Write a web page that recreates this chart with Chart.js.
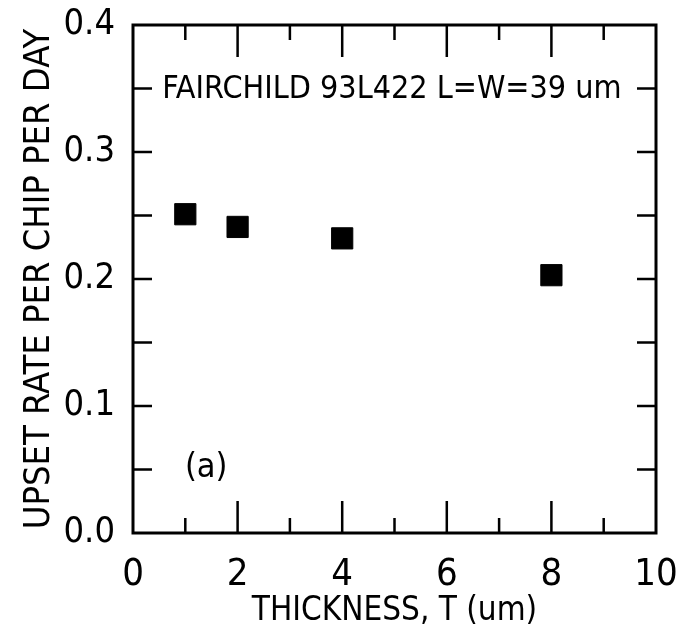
<!DOCTYPE html>
<html>
<head>
<meta charset="utf-8">
<script src="https://cdn.jsdelivr.net/npm/chart.js@4"></script>
<style>
  html, body { margin: 0; padding: 0; background: #fff; }
  #wrap { width: 680px; height: 635px; }
</style>
</head>
<body>
<div id="wrap"><canvas id="chart" width="680" height="635"></canvas></div>
<script>
const thickness = [1, 2, 4, 8]
const upsetRate = [0.251, 0.241, 0.232, 0.203]
const xTicks = [0, 2, 4, 6, 8, 10]
const yTicks = [0.0, 0.1, 0.2, 0.3, 0.4]
const note = 'FAIRCHILD 93L422 L=W=39 um'
const panel = '(a)'

const FONT = "'Liberation Sans Narrow', 'DejaVu Sans Condensed', sans-serif"

// inward ticks on all four sides plus the box
const frame = {
  id: 'frame',
  afterDatasetsDraw(chart){
    const {ctx, chartArea:a, scales:{x, y}} = chart
    ctx.save()
    ctx.strokeStyle = '#000'
    ctx.lineWidth = 3
    ctx.strokeRect(a.left, a.top, a.right - a.left, a.bottom - a.top)
    ctx.lineWidth = 2.5
    ctx.beginPath()
    for(let v = 1; v < 10; v++){
      const px = x.getPixelForValue(v)
      const len = v % 2 === 0 ? 32 : 15
      ctx.moveTo(px, a.bottom); ctx.lineTo(px, a.bottom - len)
      ctx.moveTo(px, a.top); ctx.lineTo(px, a.top + len)
    }
    for(let i = 1; i < 8; i++){
      const py = y.getPixelForValue(i * 0.05)
      ctx.moveTo(a.left, py); ctx.lineTo(a.left + 19, py)
      ctx.moveTo(a.right, py); ctx.lineTo(a.right - 19, py)
    }
    ctx.stroke()
    // labels inside the plot
    ctx.fillStyle = '#000'
    ctx.textBaseline = 'middle'
    ctx.textAlign = 'center'
    ctx.font = '32px ' + FONT
    ctx.fillText(note, x.getPixelForValue(4.95), y.getPixelForValue(0.349))
    ctx.font = '34px ' + FONT
    ctx.fillText(panel, x.getPixelForValue(1.4), y.getPixelForValue(0.051))
    ctx.restore()
  }
}

new Chart(document.getElementById('chart'), {
  type: 'scatter',
  data: {
    datasets: [{
      data: thickness.map((t, i) => ({x: t, y: upsetRate[i]})),
      pointStyle: 'rect',
      pointRadius: 15,
      pointHoverRadius: 15,
      backgroundColor: '#000',
      borderColor: '#000'
    }]
  },
  options: {
    responsive: false,
    animation: false,
    layout: {padding: {top: 25, right: 24, left: 0, bottom: 0}},
    plugins: {legend: {display: false}, tooltip: {enabled: false}},
    scales: {
      x: {
        type: 'linear', min: 0, max: 10,
        afterFit(s){ s.height = 102; s.paddingLeft = 0; s.paddingRight = 0 },
        afterBuildTicks(s){ s.ticks = xTicks.map(v => ({value: v})) },
        grid: {display: false},
        border: {display: false},
        ticks: {color: '#000', padding: 11, font: {family: FONT, size: 38}},
        title: {display: true, text: 'THICKNESS, T (um)', color: '#000', padding: {top: 0}, font: {family: FONT, size: 33}}
      },
      y: {
        type: 'linear', min: 0, max: 0.4,
        afterFit(s){ s.width = 133; s.paddingTop = 0; s.paddingBottom = 0 },
        afterBuildTicks(s){ s.ticks = yTicks.map(v => ({value: v})) },
        grid: {display: false},
        border: {display: false},
        ticks: {color: '#000', padding: 10, font: {family: FONT, size: 36}, callback: v => v.toFixed(1)},
        title: {display: true, text: 'UPSET RATE PER CHIP PER DAY', color: '#000', padding: {top: 18}, font: {family: FONT, size: 36}}
      }
    }
  },
  plugins: [frame]
})
</script>
</body>
</html>
